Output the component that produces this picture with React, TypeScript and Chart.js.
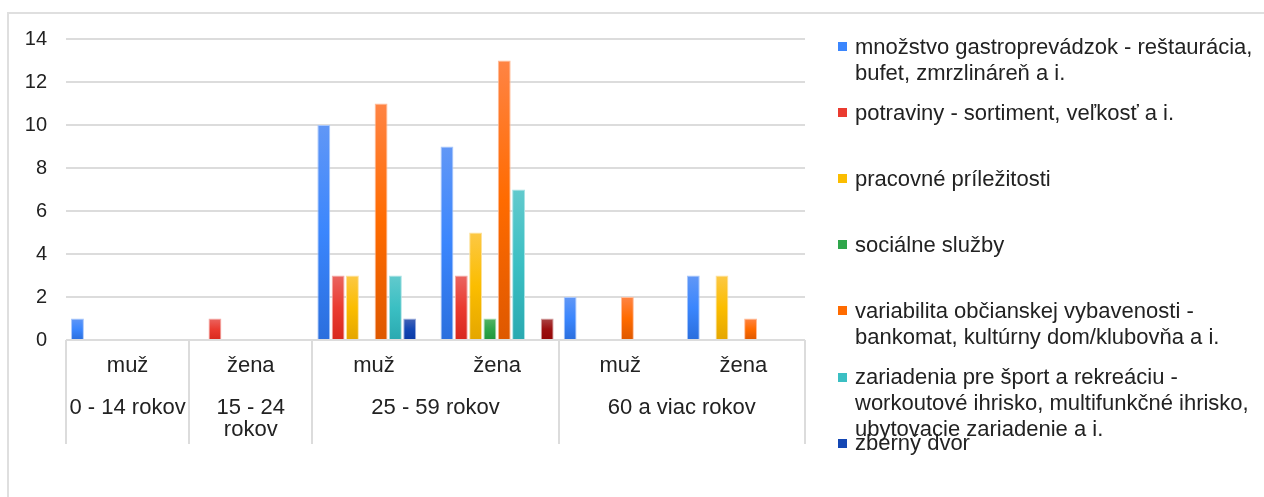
import React, { useEffect, useRef } from "react";
import { Chart, registerables } from "chart.js";

Chart.register(...registerables);

// ---- data ----
const categories = ["muž", "žena", "muž", "žena", "muž", "žena"];
const groupLabels = [["0 - 14 rokov"], ["15 - 24", "rokov"], ["25 - 59 rokov"], ["60 a viac rokov"]];
const groupSpans = [1, 1, 2, 2];

const seriesNames = [
  "množstvo gastroprevádzok - reštaurácia, bufet, zmrzlináreň a i.",
  "potraviny - sortiment, veľkosť a i.",
  "pracovné príležitosti",
  "sociálne služby",
  "variabilita občianskej vybavenosti - bankomat, kultúrny dom/klubovňa a i.",
  "zariadenia pre šport a rekreáciu - workoutové ihrisko, multifunkčné ihrisko, ubytovacie zariadenie a i.",
  "zberný dvor",
  "iné",
];
const gastro = [1, 0, 10, 9, 2, 3];
const potraviny = [0, 1, 3, 3, 0, 0];
const pracovne = [0, 0, 3, 5, 0, 3];
const socialne = [0, 0, 0, 1, 0, 0];
const variabilita = [0, 0, 11, 13, 2, 1];
const zariadenia = [0, 0, 3, 7, 0, 0];
const zberny = [0, 0, 1, 0, 0, 0];
const ine = [0, 0, 0, 1, 0, 0];
const seriesValues = [gastro, potraviny, pracovne, socialne, variabilita, zariadenia, zberny, ine];
const legendCount = 7;

// [top light, middle, bottom dark, edge]
const seriesColors = [
  ["#6197f6", "#3b86fd", "#2a6edd", "#a9c7fb"],
  ["#ea6560", "#ea3b30", "#d8281d", "#f4aaa6"],
  ["#fcc845", "#fbbd00", "#e4a600", "#fde19a"],
  ["#55b466", "#2fa64b", "#1f963c", "#a3d9ae"],
  ["#ff8444", "#ff6b00", "#de5800", "#ffbc99"],
  ["#62cacd", "#3bbfc3", "#2aa9b0", "#a8e2e4"],
  ["#4463b6", "#1447b4", "#0a3aa6", "#9aabdb"],
  ["#aa4545", "#9c1010", "#930606", "#d3a1a1"],
];
const legendColors = ["#3b86fd", "#ea3b30", "#fbbd00", "#2fa64b", "#ff6b00", "#3bbfc3", "#1447b4"];

const FONT = "'Liberation Sans', Arial, sans-serif";
const TEXT = "#222222";
const GRID = "#dcdcdc";

const xTablePlugin = {
  id: "xTable",
  afterDraw(chart: any) {
    const { ctx, chartArea, scales } = chart;
    const x = scales.x;
    const half = (x.getPixelForValue(1) - x.getPixelForValue(0)) / 2;
    const leftOf = (i: number) => x.getPixelForValue(i) - half;
    const bottom = chartArea.bottom;
    ctx.save();
    ctx.strokeStyle = GRID;
    ctx.lineWidth = 2;
    // boundaries
    const bounds = [0];
    let acc = 0;
    groupSpans.forEach((s) => {
      acc += s;
      bounds.push(acc);
    });
    bounds.forEach((b) => {
      const px = Math.round(leftOf(b));
      ctx.beginPath();
      ctx.moveTo(px, bottom);
      ctx.lineTo(px, bottom + 104);
      ctx.stroke();
    });
    ctx.fillStyle = TEXT;
    ctx.font = `22px ${FONT}`;
    ctx.textAlign = "center";
    ctx.textBaseline = "middle";
    categories.forEach((c, i) => {
      ctx.fillText(c, x.getPixelForValue(i), bottom + 26);
    });
    groupLabels.forEach((lines, g) => {
      const cx = (leftOf(bounds[g]) + leftOf(bounds[g + 1])) / 2;
      lines.forEach((ln, k) => {
        ctx.fillText(ln, cx, bottom + 68 + k * 22);
      });
    });
    ctx.restore();
  },
};

export default function App() {
  const ref = useRef<HTMLCanvasElement | null>(null);
  useEffect(() => {
    if (!ref.current) return;
    const chart = new Chart(ref.current, {
      type: "bar",
      data: {
        labels: categories,
        datasets: seriesValues.map((vals, si) => ({
          label: seriesNames[si],
          data: vals,
          backgroundColor: (c: any) => {
            const cols = seriesColors[si];
            const ch = c.chart;
            const v = c.raw as number;
            if (c.type !== "data" || !ch.chartArea || !v) return cols[1];
            const y = ch.scales.y;
            const yTop = y.getPixelForValue(v);
            const yBase = y.getPixelForValue(0);
            const g = ch.ctx.createLinearGradient(0, yTop, 0, yBase);
            g.addColorStop(0, cols[0]);
            g.addColorStop(0.5, cols[1]);
            g.addColorStop(1, cols[2]);
            return g;
          },
          borderColor: seriesColors[si][3],
          borderWidth: (c: any) => (c.raw ? 1 : 0),
          barPercentage: 0.9,
          categoryPercentage: 0.93,
        })),
      },
      options: {
        responsive: false,
        animation: false,
        layout: { padding: { left: 0, top: 39, right: 459, bottom: 157 } },
        plugins: {
          legend: { display: false },
          tooltip: { enabled: false },
        },
        scales: {
          x: { display: false },
          y: {
            min: 0,
            max: 14,
            border: { display: false },
            grid: { color: GRID, lineWidth: 2, drawTicks: false },
            ticks: {
              stepSize: 2,
              padding: 19,
              color: TEXT,
              font: { family: FONT, size: 20 },
            },
            afterFit: (s: any) => {
              s.width = 66;
            },
          },
        },
      },
      plugins: [xTablePlugin],
    });
    return () => chart.destroy();
  }, []);

  return (
    <div style={{ position: "absolute", left: 0, top: 0, width: 1264, height: 497, background: "#fff", overflow: "hidden" }}>
      <canvas ref={ref} width={1264} height={497} style={{ position: "absolute", left: 0, top: 0, width: 1264, height: 497 }} />
      <div
        style={{
          position: "absolute",
          left: 7,
          top: 12,
          width: 1300,
          height: 600,
          borderLeft: "2px solid #dfdfdf",
          borderTop: "2px solid #dfdfdf",
          pointerEvents: "none",
        }}
      />
      {seriesNames.slice(0, legendCount).map((name, i) => (
        <div key={i} style={{ position: "absolute", left: 838, top: 33.5 + 66.1 * i, fontFamily: FONT }}>
          <div style={{ position: "absolute", left: 0, top: 8.5, width: 9, height: 9, background: legendColors[i] }} />
          <div style={{ position: "absolute", left: 17, top: 0, width: 407, fontSize: 22, lineHeight: "26px", color: TEXT }}>
            {name}
          </div>
        </div>
      ))}
    </div>
  );
}
